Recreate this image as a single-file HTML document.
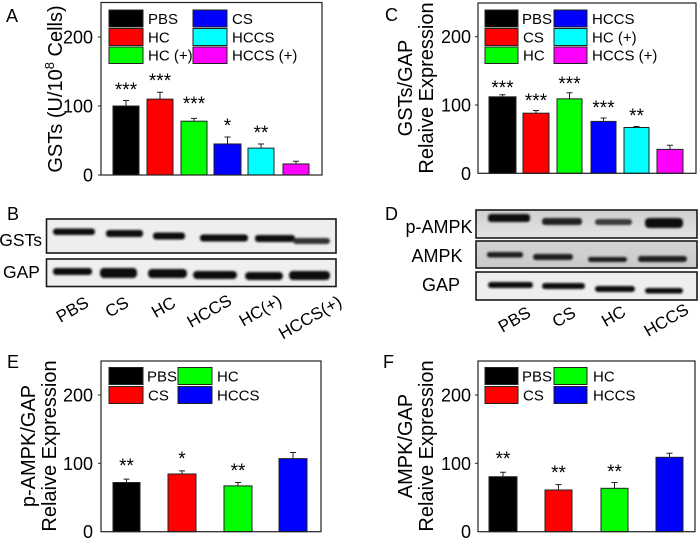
<!DOCTYPE html>
<html><head><meta charset="utf-8"><style>
html,body{margin:0;padding:0;background:#fff;}
svg{display:block;font-family:"Liberation Sans",Arial,sans-serif;}
</style></head><body>
<svg width="700" height="542" viewBox="0 0 700 542" xmlns="http://www.w3.org/2000/svg">
<defs>
<filter id="bl" x="-20%" y="-100%" width="140%" height="300%"><feGaussianBlur stdDeviation="1.1"/></filter>
<linearGradient id="gp" x1="0" y1="0" x2="0" y2="1"><stop offset="0" stop-color="#cfcfcf"/><stop offset="1" stop-color="#e4e4e4"/></linearGradient>
<linearGradient id="ga" x1="0" y1="0" x2="0" y2="1"><stop offset="0" stop-color="#d4d4d4"/><stop offset="1" stop-color="#c9c9c9"/></linearGradient>
</defs>
<rect width="700" height="542" fill="#fff"/>

<!-- ============ Panel A ============ -->
<text x="6" y="22" font-size="18">A</text>
<text transform="translate(62,89) rotate(-90)" text-anchor="middle" font-size="20">GSTs (U/10<tspan font-size="13" dy="-8">8</tspan><tspan dy="8"> Cells)</tspan></text>
<g font-size="18" text-anchor="end">
<text x="93" y="181.5">0</text><text x="93" y="112.5">100</text><text x="93" y="43.5">200</text>
</g>
<g stroke="#222" stroke-width="1"><line x1="98" y1="106" x2="101" y2="106"/><line x1="98" y1="37" x2="101" y2="37"/><line x1="98" y1="175" x2="101" y2="175"/></g>
<g stroke="#222" stroke-width="1">
<rect x="113" y="106" width="26" height="69" fill="#000"/>
<rect x="147" y="99.1" width="26" height="75.9" fill="#ff0000"/>
<rect x="181" y="121.2" width="26" height="53.8" fill="#00ff00"/>
<rect x="214" y="143.95" width="27" height="31.05" fill="#0000ff"/>
<rect x="248" y="148.1" width="26" height="26.9" fill="#00ffff"/>
<rect x="283" y="163.96" width="26" height="11.04" fill="#ff00ff"/>
<path d="M126 106V100.5M123 100.5H129M160 99.1V92.2M157 92.2H163M194 121.2V118.4M191 118.4H197M227.5 143.95V137.05M224.5 137.05H230.5M261 148.1V143.95M258 143.95H264M296 163.96V161.2M293 161.2H299" fill="none"/>
</g>
<g font-size="19" text-anchor="middle">
<text x="126" y="96">***</text><text x="160" y="87">***</text><text x="194" y="110">***</text><text x="227.5" y="132">*</text><text x="261" y="139">**</text>
</g>
<g stroke="#222" stroke-width="1">
<rect x="109" y="10" width="34" height="17" fill="#000"/>
<rect x="109" y="28.5" width="34" height="17" fill="#ff0000"/>
<rect x="109" y="47" width="34" height="16.5" fill="#00ff00"/>
<rect x="193" y="10" width="34" height="17" fill="#0000ff"/>
<rect x="193" y="28.5" width="34" height="17" fill="#00ffff"/>
<rect x="193" y="47" width="34" height="16.5" fill="#ff00ff"/>
</g>
<g font-size="15">
<text x="148" y="24">PBS</text><text x="148" y="42.5">HC</text><text x="148" y="60.5">HC (+)</text>
<text x="232" y="24">CS</text><text x="232" y="42.5">HCCS</text><text x="232" y="60.5">HCCS (+)</text>
</g>
<rect x="101" y="2.5" width="221" height="172.5" fill="none" stroke="#222" stroke-width="1.2"/>

<!-- ============ Panel C ============ -->
<text x="385" y="21" font-size="18">C</text>
<text transform="translate(412,88) rotate(-90)" text-anchor="middle" font-size="20">GSTs/GAP</text>
<text transform="translate(433,88) rotate(-90)" text-anchor="middle" font-size="20">Relaive Expression</text>
<g font-size="18" text-anchor="end">
<text x="471" y="179.8">0</text><text x="471" y="111.5">100</text><text x="471" y="43.2">200</text>
</g>
<g stroke="#222" stroke-width="1"><line x1="475" y1="105" x2="478" y2="105"/><line x1="475" y1="36.7" x2="478" y2="36.7"/></g>
<g stroke="#222" stroke-width="1">
<rect x="489" y="96.8" width="27" height="76.5" fill="#000"/>
<rect x="523" y="113.2" width="26" height="60.1" fill="#ff0000"/>
<rect x="557" y="98.85" width="25" height="74.45" fill="#00ff00"/>
<rect x="591" y="121.4" width="25" height="51.9" fill="#0000ff"/>
<rect x="624" y="127.5" width="25" height="45.8" fill="#00ffff"/>
<rect x="657" y="149.4" width="26" height="23.9" fill="#ff00ff"/>
<path d="M502.5 96.8V94.75M499.5 94.75H505.5M536 113.2V110.5M533 110.5H539M569.5 98.85V92.7M566.5 92.7H572.5M603.5 121.4V118M600.5 118H606.5M636.5 127.5V126.5M633.5 126.5H639.5M670 149.4V145.3M667 145.3H673" fill="none"/>
</g>
<g font-size="19" text-anchor="middle">
<text x="502.5" y="94">***</text><text x="536" y="107">***</text><text x="569.5" y="90">***</text><text x="603.5" y="114">***</text><text x="636.5" y="122">**</text>
</g>
<g stroke="#222" stroke-width="1">
<rect x="485" y="10" width="33" height="17" fill="#000"/>
<rect x="485" y="28.5" width="33" height="17" fill="#ff0000"/>
<rect x="485" y="47" width="33" height="16.5" fill="#00ff00"/>
<rect x="554" y="10" width="33" height="17" fill="#0000ff"/>
<rect x="554" y="28.5" width="33" height="17" fill="#00ffff"/>
<rect x="554" y="47" width="33" height="16.5" fill="#ff00ff"/>
</g>
<g font-size="15">
<text x="522" y="24">PBS</text><text x="523" y="42.5">CS</text><text x="523" y="60.5">HC</text>
<text x="592" y="24">HCCS</text><text x="592" y="42.5">HC (+)</text><text x="592" y="60.5">HCCS (+)</text>
</g>
<rect x="478" y="3" width="218" height="170.3" fill="none" stroke="#222" stroke-width="1.2"/>

<!-- ============ Panel B (blot) ============ -->
<text x="7" y="220" font-size="18">B</text>
<text x="42" y="246" font-size="17.5" text-anchor="end">GSTs</text>
<text x="21.5" y="278" font-size="17.5" text-anchor="middle">GAP</text>
<rect x="46.5" y="219" width="289.5" height="34" fill="#eeeeee" stroke="#1a1a1a" stroke-width="1.6"/>
<rect x="46.5" y="259" width="289.5" height="27.5" fill="#efefef" stroke="#1a1a1a" stroke-width="1.6"/>
<g filter="url(#bl)" fill="#111">
<rect x="53" y="228.5" width="42" height="6.5" rx="3"/>
<rect x="106" y="230" width="37" height="7" rx="3"/>
<rect x="153" y="232.5" width="32" height="7" rx="3"/>
<rect x="200" y="234.5" width="48" height="7" rx="3"/>
<rect x="255" y="235" width="40" height="7" rx="3"/>
<rect x="293" y="238" width="37" height="6" rx="3" fill="#333"/>
<rect x="53" y="268" width="39" height="7" rx="3"/>
<rect x="100" y="268" width="37" height="10" rx="4"/>
<rect x="148" y="269" width="39" height="9" rx="4"/>
<rect x="193" y="271" width="44" height="8" rx="4"/>
<rect x="245" y="272" width="38" height="8" rx="4"/>
<rect x="289" y="271" width="41" height="9" rx="4"/>
</g>
<g font-size="17">
<text transform="translate(90,306) rotate(-30)" text-anchor="end">PBS</text>
<text transform="translate(130,306) rotate(-30)" text-anchor="end">CS</text>
<text transform="translate(177,306) rotate(-30)" text-anchor="end">HC</text>
<text transform="translate(233,304) rotate(-30)" text-anchor="end">HCCS</text>
<text transform="translate(283,304) rotate(-30)" text-anchor="end">HC(+)</text>
<text transform="translate(343,305) rotate(-30)" text-anchor="end">HCCS(+)</text>
</g>

<!-- ============ Panel D (blot) ============ -->
<text x="385" y="220" font-size="18">D</text>
<g font-size="18" text-anchor="middle">
<text x="439" y="233">p-AMPK</text>
<text x="437" y="262">AMPK</text>
<text x="441" y="291">GAP</text>
</g>
<rect x="476" y="210" width="221" height="28" fill="url(#gp)" stroke="#1a1a1a" stroke-width="1.6"/>
<rect x="476" y="241" width="221" height="27" fill="url(#ga)" stroke="#1a1a1a" stroke-width="1.6"/>
<rect x="476" y="272" width="221" height="28" fill="#eeeeee" stroke="#1a1a1a" stroke-width="1.6"/>
<g filter="url(#bl)" fill="#111">
<rect x="488" y="214" width="42" height="8" rx="3"/>
<rect x="542" y="218" width="40" height="7" rx="3" fill="#222"/>
<rect x="595" y="219" width="37" height="6" rx="3" fill="#3a3a3a"/>
<rect x="645" y="218" width="38" height="10" rx="4"/>
<rect x="487" y="252" width="36" height="5.5" rx="2.5" fill="#1a1a1a"/>
<rect x="533" y="254" width="40" height="6" rx="3" fill="#1a1a1a"/>
<rect x="588" y="257" width="39" height="5" rx="2.5" fill="#1a1a1a"/>
<rect x="638" y="256" width="49" height="6" rx="3" fill="#1a1a1a"/>
<rect x="488" y="282" width="45" height="6" rx="3"/>
<rect x="542" y="283" width="43" height="6" rx="3"/>
<rect x="595" y="286" width="40" height="6" rx="3"/>
<rect x="645" y="288" width="38" height="5.5" rx="3"/>
</g>
<g font-size="17">
<text transform="translate(532,316) rotate(-30)" text-anchor="end">PBS</text>
<text transform="translate(577,316) rotate(-30)" text-anchor="end">CS</text>
<text transform="translate(627,315) rotate(-30)" text-anchor="end">HC</text>
<text transform="translate(690,313) rotate(-30)" text-anchor="end">HCCS</text>
</g>

<!-- ============ Panel E ============ -->
<text x="7" y="368" font-size="18">E</text>
<text transform="translate(35,446) rotate(-90)" text-anchor="middle" font-size="20">p-AMPK/GAP</text>
<text transform="translate(56,446) rotate(-90)" text-anchor="middle" font-size="20">Relaive Expression</text>
<g font-size="18" text-anchor="end">
<text x="93" y="538.2">0</text><text x="93" y="469.8">100</text><text x="93" y="401.5">200</text>
</g>
<g stroke="#222" stroke-width="1"><line x1="98" y1="463.3" x2="101" y2="463.3"/><line x1="98" y1="395" x2="101" y2="395"/></g>
<g stroke="#222" stroke-width="1">
<rect x="113" y="482.5" width="27" height="49.2" fill="#000"/>
<rect x="168" y="474" width="28" height="57.7" fill="#ff0000"/>
<rect x="224" y="485.9" width="28" height="45.8" fill="#00ff00"/>
<rect x="279" y="458.6" width="28" height="73.1" fill="#0000ff"/>
<path d="M126.5 482.5V479.1M123.5 479.1H129.5M182 474V470.9M179 470.9H185M238 485.9V482.5M235 482.5H241M293 458.6V452.5M290 452.5H296" fill="none"/>
</g>
<g font-size="19" text-anchor="middle">
<text x="126.5" y="472">**</text><text x="182" y="465">*</text><text x="238" y="477">**</text>
</g>
<g stroke="#222" stroke-width="1">
<rect x="109" y="367.5" width="34" height="17" fill="#000"/>
<rect x="109" y="386.5" width="34" height="17" fill="#ff0000"/>
<rect x="178" y="367.5" width="34" height="17" fill="#00ff00"/>
<rect x="178" y="386.5" width="34" height="17" fill="#0000ff"/>
</g>
<g font-size="15">
<text x="147" y="381.5">PBS</text><text x="148" y="400.5">CS</text>
<text x="217" y="381.5">HC</text><text x="217" y="400.5">HCCS</text>
</g>
<rect x="101" y="361" width="220" height="170.7" fill="none" stroke="#222" stroke-width="1.2"/>

<!-- ============ Panel F ============ -->
<text x="383" y="368" font-size="18">F</text>
<text transform="translate(412,446) rotate(-90)" text-anchor="middle" font-size="20">AMPK/GAP</text>
<text transform="translate(433,446) rotate(-90)" text-anchor="middle" font-size="20">Relaive Expression</text>
<g font-size="18" text-anchor="end">
<text x="471" y="538.2">0</text><text x="471" y="469.8">100</text><text x="471" y="401.5">200</text>
</g>
<g stroke="#222" stroke-width="1"><line x1="475" y1="463.3" x2="478" y2="463.3"/><line x1="475" y1="395" x2="478" y2="395"/></g>
<g stroke="#222" stroke-width="1">
<rect x="489" y="476.7" width="28" height="55" fill="#000"/>
<rect x="545" y="490" width="27" height="41.7" fill="#ff0000"/>
<rect x="601" y="488.3" width="27" height="43.4" fill="#00ff00"/>
<rect x="656" y="457.3" width="27" height="74.4" fill="#0000ff"/>
<path d="M503 476.7V472.3M500 472.3H506M558.5 490V484.6M555.5 484.6H561.5M614.5 488.3V482.5M611.5 482.5H617.5M669.5 457.3V453.2M666.5 453.2H672.5" fill="none"/>
</g>
<g font-size="19" text-anchor="middle">
<text x="503" y="465">**</text><text x="558.5" y="479">**</text><text x="614.5" y="478">**</text>
</g>
<g stroke="#222" stroke-width="1">
<rect x="485" y="367.5" width="33" height="17" fill="#000"/>
<rect x="485" y="386.5" width="33" height="17" fill="#ff0000"/>
<rect x="554" y="367.5" width="33" height="17" fill="#00ff00"/>
<rect x="554" y="386.5" width="33" height="17" fill="#0000ff"/>
</g>
<g font-size="15">
<text x="522" y="381.5">PBS</text><text x="523" y="400.5">CS</text>
<text x="593" y="381.5">HC</text><text x="593" y="400.5">HCCS</text>
</g>
<rect x="478" y="361" width="217" height="170.7" fill="none" stroke="#222" stroke-width="1.2"/>
</svg>
</body></html>
